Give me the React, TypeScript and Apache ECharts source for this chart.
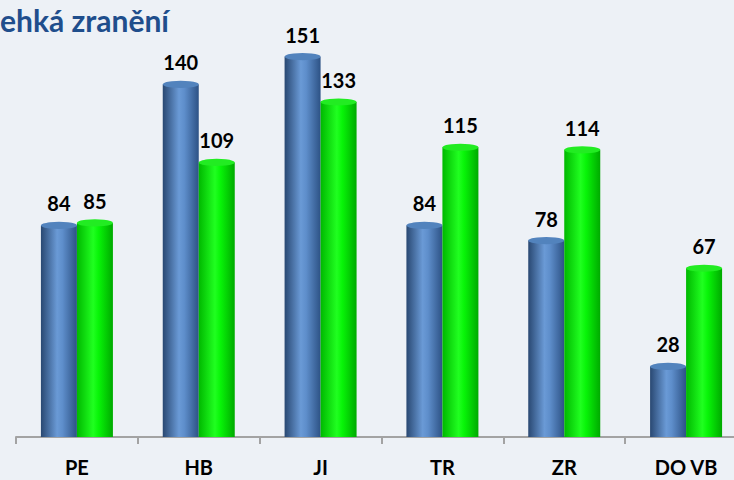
import React, { useEffect, useRef } from "react";
import * as echarts from "echarts";

const categories = ["PE", "HB", "JI", "TR", "ZR", "DO VB"];
const seriesA = [84, 140, 151, 84, 78, 28];
const seriesB = [85, 109, 133, 115, 114, 67];
const titleText = "ehká zranění";

export default function App() {
  const ref = useRef<HTMLDivElement>(null);
  useEffect(() => {
    const chart = echarts.init(ref.current!, null, { renderer: "svg" });
    const blue = new echarts.graphic.LinearGradient(0, 0, 1, 0, [
      { offset: 0, color: "#294872" },
      { offset: 0.45, color: "#6a9ad6" },
      { offset: 0.6, color: "#5e8ecb" },
      { offset: 1, color: "#2d5285" },
    ]);
    const green = new echarts.graphic.LinearGradient(0, 0, 1, 0, [
      { offset: 0, color: "#00b800" },
      { offset: 0.45, color: "#20ff20" },
      { offset: 0.6, color: "#08f508" },
      { offset: 1, color: "#00aa00" },
    ]);
    const labelStyle = {
      show: true,
      position: "top" as const,
      distance: 12,
      fontFamily: "Lato",
      fontWeight: "bold" as const,
      fontSize: 20,
      color: "#000",
    };
    chart.setOption({
      animation: false,
      backgroundColor: "#edf1f6",
      graphic: [
        {
          type: "text",
          left: 0,
          top: 5,
          style: {
            text: titleText,
            fontFamily: "Lato",
            fontWeight: "bold",
            fontSize: 30,
            fill: "#1f4e8c",
          },
        },
      ],
      grid: { left: 16, right: 1, top: 34, bottom: 43 },
      xAxis: {
        type: "category",
        data: categories,
        axisLine: { lineStyle: { color: "#a3a3a3", width: 2 } },
        axisTick: { show: true, length: 7, lineStyle: { color: "#a3a3a3", width: 2 } },
        axisLabel: {
          fontFamily: "Lato",
          fontWeight: "bold",
          fontSize: 20,
          color: "#000",
          margin: 20,
        },
      },
      yAxis: {
        type: "value",
        min: 0,
        max: 160,
        show: false,
        splitLine: { show: false },
      },
      series: [
        {
          type: "bar",
          data: seriesA,
          barWidth: 36,
          barGap: "0%",
          itemStyle: { color: blue },
          label: labelStyle,
          z: 2,
        },
        {
          type: "bar",
          data: seriesB,
          barWidth: 36,
          barGap: "0%",
          itemStyle: { color: green },
          label: labelStyle,
          z: 2,
        },
        {
          type: "pictorialBar",
          data: seriesA,
          symbol: "circle",
          symbolSize: [36, 7],
          symbolPosition: "end",
          symbolOffset: ["-50%", "-50%"],
          itemStyle: { color: "#5283bd" },
          z: 3,
        },
        {
          type: "pictorialBar",
          data: seriesB,
          symbol: "circle",
          symbolSize: [36, 7],
          symbolPosition: "end",
          symbolOffset: ["50%", "-50%"],
          itemStyle: { color: "#22ec22" },
          z: 3,
        },
      ],
    });
    return () => chart.dispose();
  }, []);
  return (
    <div style={{ width: 734, height: 480, position: "absolute", left: 0, top: 0, overflow: "hidden" }}>
      <div ref={ref} style={{ width: 748, height: 480 }} />
    </div>
  );
}
